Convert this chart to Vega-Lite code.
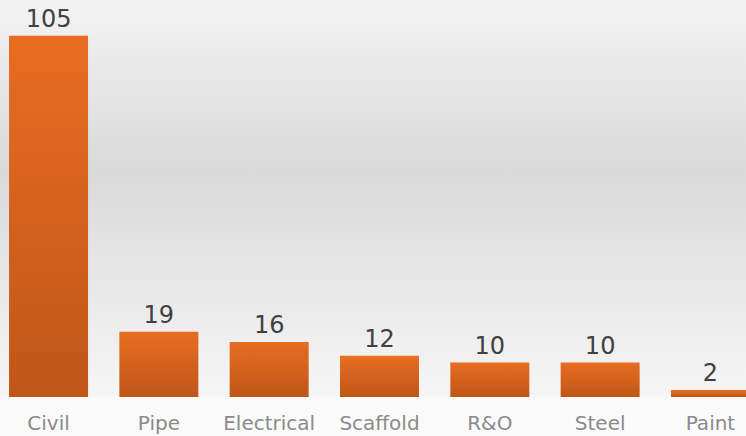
{
  "$schema": "https://vega.github.io/schema/vega-lite/v6.json",
  "width": 759,
  "height": 397,
  "autosize": {"type": "none"},
  "padding": {"left": 0, "top": 0, "right": 0, "bottom": 39},
  "background": "#fafafa",
  "config": {
    "view": {"stroke": null},
    "font": "DejaVu Sans"
  },
  "layer": [
    {
      "data": {"values": [{}]},
      "mark": {
        "type": "rect",
        "color": {
          "gradient": "linear",
          "x1": 0, "y1": 0, "x2": 0, "y2": 1,
          "stops": [
            {"offset": 0, "color": "#f3f3f3"},
            {"offset": 0.43, "color": "#d9d9d9"},
            {"offset": 1, "color": "#f6f6f6"}
          ]
        }
      },
      "encoding": {}
    },
    {
      "data": {
        "values": [
          {"trade": "Civil", "count": 105},
          {"trade": "Pipe", "count": 19},
          {"trade": "Electrical", "count": 16},
          {"trade": "Scaffold", "count": 12},
          {"trade": "R&O", "count": 10},
          {"trade": "Steel", "count": 10},
          {"trade": "Paint", "count": 2}
        ]
      },
      "encoding": {
        "x": {
          "field": "trade",
          "type": "nominal",
          "sort": null,
          "title": null,
          "scale": {"paddingInner": 0.284, "paddingOuter": 0.082},
          "axis": {
            "domain": false,
            "ticks": false,
            "labelAngle": 0,
            "labelFont": "DejaVu Sans",
            "labelFontSize": 20,
            "labelColor": "#8a8a8a",
            "labelBaseline": "alphabetic",
            "labelPadding": 32
          }
        },
        "y": {
          "field": "count",
          "type": "quantitative",
          "scale": {"domain": [0, 115.4], "nice": false},
          "axis": null
        }
      },
      "layer": [
        {
          "mark": {
            "type": "bar",
            "color": {
              "gradient": "linear",
              "x1": 0, "y1": 0, "x2": 0, "y2": 1,
              "stops": [
                {"offset": 0, "color": "#e86d21"},
                {"offset": 1, "color": "#bf5618"}
              ]
            }
          }
        },
        {
          "mark": {
            "type": "text",
            "baseline": "alphabetic",
            "dy": -9,
            "fontSize": 24,
            "color": "#404040"
          },
          "encoding": {"text": {"field": "count", "type": "quantitative"}}
        }
      ]
    }
  ]
}
